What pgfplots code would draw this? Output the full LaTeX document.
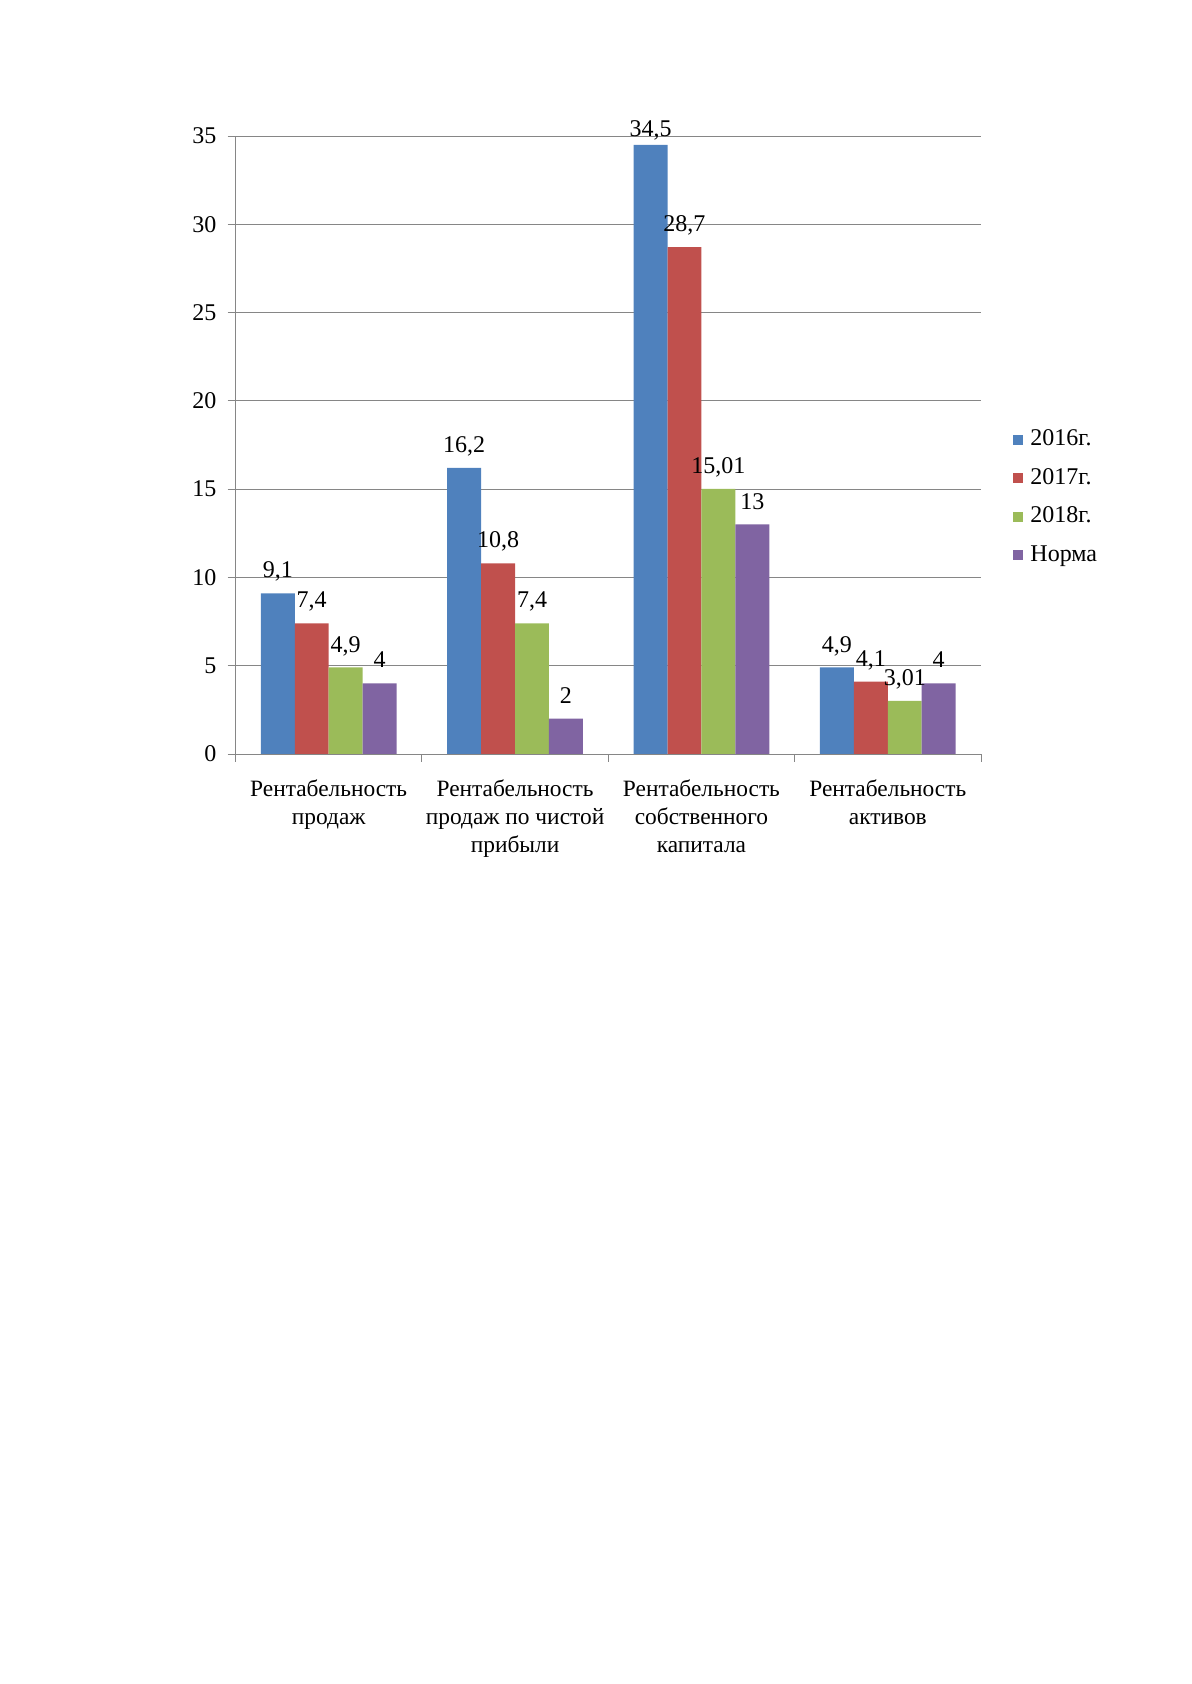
\documentclass[border=0pt]{standalone}
\usepackage{fontspec}
\setmainfont{Liberation Serif}
\usepackage{pgfplots}
\pgfplotsset{compat=1.18}
\definecolor{cA}{HTML}{4F81BD}
\definecolor{cB}{HTML}{C0504D}
\definecolor{cC}{HTML}{9BBB59}
\definecolor{cD}{HTML}{8064A2}
\definecolor{axgray}{HTML}{868686}
\begin{document}
\begin{tikzpicture}
\useasboundingbox (0,0) rectangle (595.5pt,842pt);
\begin{axis}[
  at={(117.75pt,465pt)}, anchor=south west,
  scale only axis, width=372.75pt, height=309pt,
  xmin=-0.5, xmax=3.5, ymin=0, ymax=35,
  ytick={0,5,...,35},
  xtick={0,1,2,3},
  xticklabels={{Рентабельность\\продаж},{Рентабельность\\продаж по чистой\\прибыли},{Рентабельность\\собственного\\капитала},{Рентабельность\\активов}},
  minor xtick={-0.5,0.5,1.5,2.5,3.5},
  axis x line=bottom, axis y line=left,
  axis line style={color=axgray,-},
  tick align=outside,
  major tick length=4pt, minor tick length=4pt,
  major x tick style={draw=none},
  every tick/.style={color=axgray},
  minor x tick style={color=axgray},
  ymajorgrids, grid style={color=axgray},
  /pgf/number format/assume math mode=true,
  ticklabel style={font=\fontsize{12}{14}\selectfont},
  xticklabel style={align=center, yshift=-5.3pt, font=\fontsize{11.7}{14}\selectfont},
  yticklabel style={xshift=-2pt},
  ybar=0pt, bar width=0.182,
  visualization depends on={y \as \rawy},
  nodes near coords={\pgfmathprintnumber[use comma, fixed, precision=2]{\pgfplotspointmeta}},
  every node near coord/.append style={font=\fontsize{12}{14}\selectfont, color=black, inner sep=0pt, text depth=0pt, yshift={ifthenelse(\rawy>34,4pt,7.5pt)}},
  legend style={at={(1.043,0.415)}, anchor=west, draw=none, fill=none, inner sep=0pt,
    font=\fontsize{12}{14}\selectfont, row sep=7.25pt,
    nodes={text height=9pt, text depth=3pt, inner sep=0pt},
    /tikz/every odd column/.append style={column sep=3.5pt}},
  legend cell align=left,
  legend image code/.code={\fill[#1] (0pt,-2.5pt) rectangle (5pt,2.5pt);},
]
\addplot[fill=cA, draw=none] coordinates {(0,9.1) (1,16.2) (2,34.5) (3,4.9)};
\addplot[fill=cB, draw=none] coordinates {(0,7.4) (1,10.8) (2,28.7) (3,4.1)};
\addplot[fill=cC, draw=none] coordinates {(0,4.9) (1,7.4) (2,15.01) (3,3.01)};
\addplot[fill=cD, draw=none] coordinates {(0,4) (1,2) (2,13) (3,4)};
\legend{2016г.,2017г.,2018г.,Норма}
\end{axis}
\end{tikzpicture}
\end{document}
